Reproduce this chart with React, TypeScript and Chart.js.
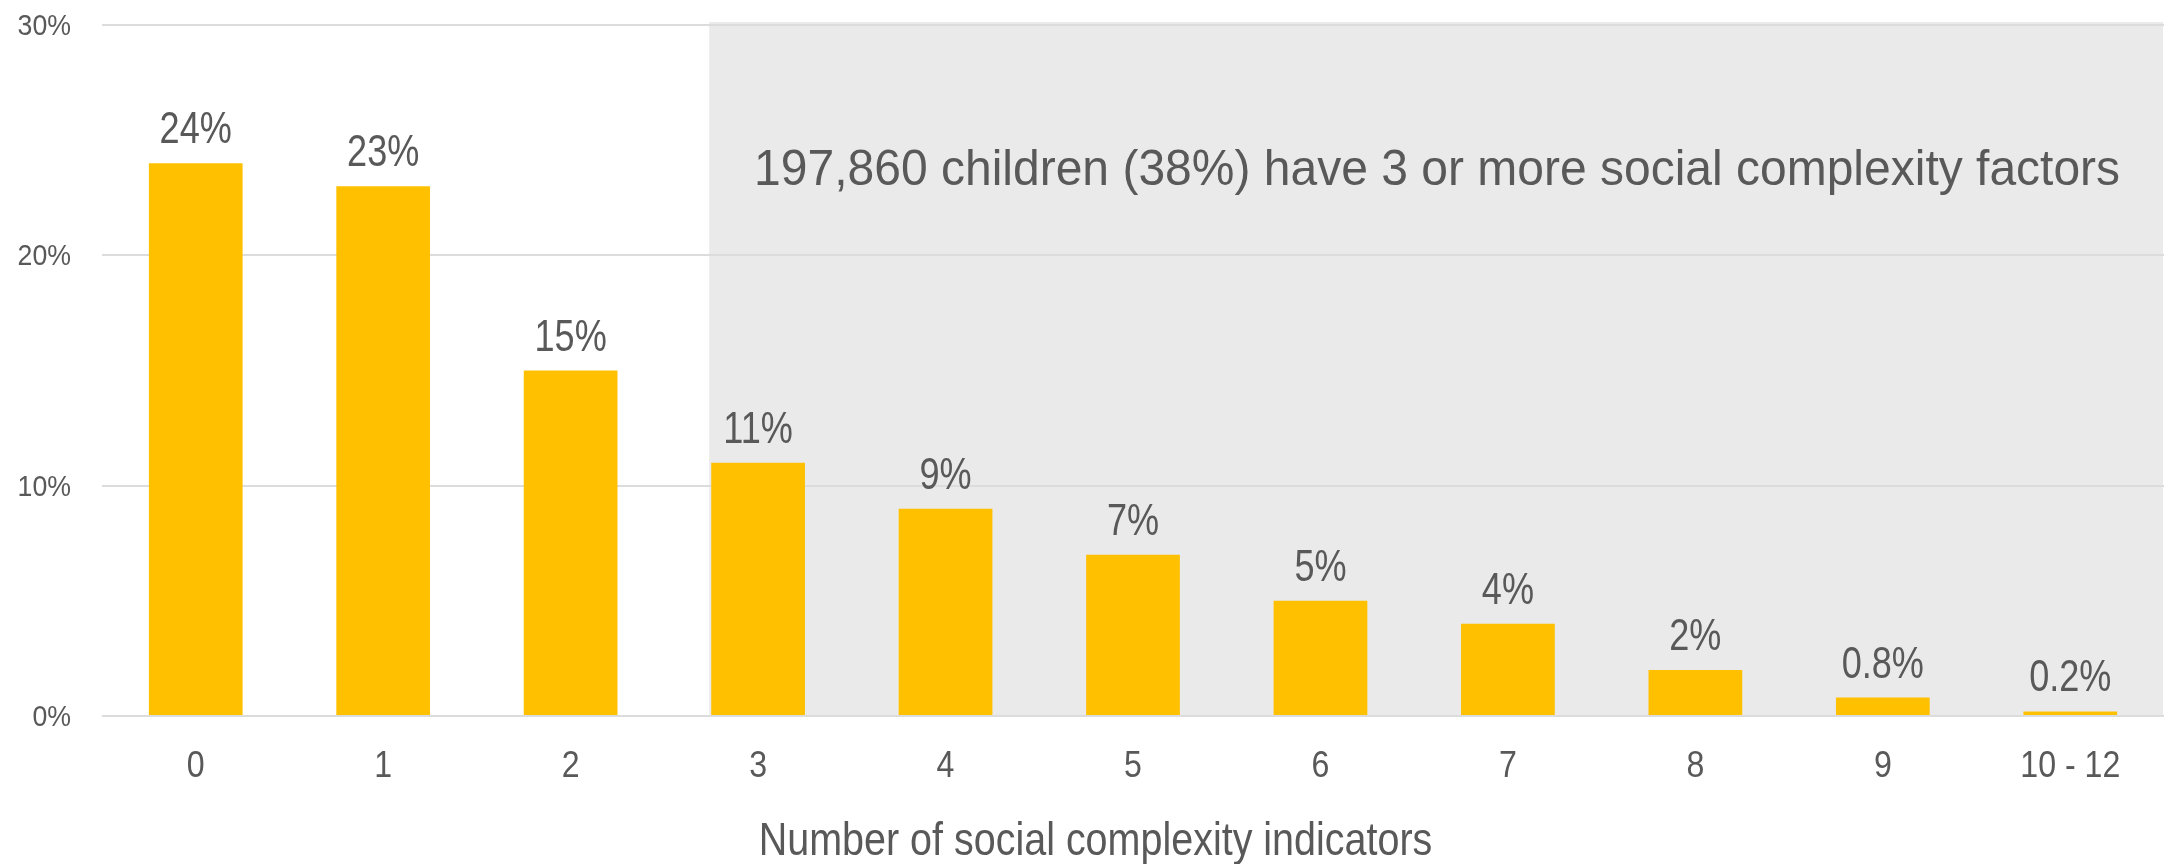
import React, { useEffect, useRef } from "react";
import { Chart, registerables } from "chart.js";

Chart.register(...registerables);

const categories = ["0", "1", "2", "3", "4", "5", "6", "7", "8", "9", "10 - 12"];
const shares = [24, 23, 15, 11, 9, 7, 5, 4, 2, 0.8, 0.2];
const yTickValues = [0, 10, 20, 30];
const annotationText = "197,860 children (38%) have 3 or more social complexity factors";
const xAxisTitle = "Number of social complexity indicators";
const highlightFromIndex = 3;

const FONT = "'Liberation Sans', Arial, sans-serif";
const TEXT = "#595959";
const BAR = "#FFC000";
const SHADE = "#EAEAEA";
const GRID = "#DCDCDC";

function drawText(
  ctx: CanvasRenderingContext2D,
  text: string,
  x: number,
  y: number,
  size: number,
  sx: number,
  align: CanvasTextAlign
) {
  ctx.save();
  ctx.translate(x, y);
  ctx.scale(sx, 1);
  ctx.font = `${size}px ${FONT}`;
  ctx.fillStyle = TEXT;
  ctx.textAlign = align;
  ctx.textBaseline = "alphabetic";
  ctx.fillText(text, 0, 0);
  ctx.restore();
}

const overlayPlugin = {
  id: "overlay",
  beforeDraw(chart: any) {
    const meta = chart.getDatasetMeta(0);
    const bar = meta.data[highlightFromIndex];
    if (!bar) return;
    const { ctx, chartArea, scales } = chart;
    const left = bar.x - bar.width / 2 - 2;
    const top = scales.y.getPixelForValue(yTickValues[yTickValues.length - 1]) - 3;
    const bottom = scales.y.getPixelForValue(0);
    ctx.save();
    ctx.fillStyle = SHADE;
    ctx.fillRect(left, top, chartArea.right - 1 - left, bottom - top);
    ctx.restore();
  },
  afterDatasetsDraw(chart: any) {
    const meta = chart.getDatasetMeta(0);
    const { ctx, chartArea, scales } = chart;
    // data labels
    meta.data.forEach((b: any, i: number) => {
      drawText(ctx, `${shares[i]}%`, b.x, b.y - 20, 44, 0.82, "center");
    });
    // y tick labels
    yTickValues.forEach((v) => {
      drawText(ctx, `${v}%`, chartArea.left - 31, scales.y.getPixelForValue(v) + 10, 30, 0.89, "right");
    });
    // x tick labels
    categories.forEach((c, i) => {
      drawText(ctx, c, scales.x.getPixelForValue(i), chartArea.bottom + 61, 36.5, 0.88, "center");
    });
    // annotation
    const bar = meta.data[highlightFromIndex];
    const left = bar.x - bar.width / 2 - 2;
    const right = chartArea.right - 1;
    const top = scales.y.getPixelForValue(yTickValues[yTickValues.length - 1]);
    drawText(ctx, annotationText, (left + right) / 2 + 1, top + 160, 50, 0.96, "center");
    // axis title
    drawText(ctx, xAxisTitle, chart.width / 2 + 13, chart.height - 9, 47, 0.84, "center");
  },
};

export default function App() {
  const ref = useRef<HTMLCanvasElement | null>(null);
  useEffect(() => {
    if (!ref.current) return;
    const chart = new Chart(ref.current, {
      type: "bar",
      data: {
        labels: categories,
        datasets: [
          {
            data: shares,
            backgroundColor: BAR,
            borderWidth: 0,
            categoryPercentage: 1,
            barPercentage: 0.5,
          },
        ],
      },
      plugins: [overlayPlugin],
      options: {
        animation: false,
        responsive: false,
        devicePixelRatio: 1,
        layout: { padding: { top: 25, right: 1, left: 0, bottom: 0 } },
        plugins: {
          legend: { display: false },
          tooltip: { enabled: false },
        },
        scales: {
          x: {
            grid: { display: false },
            border: { display: false },
            ticks: { display: false, autoSkip: false, maxRotation: 0 },
            afterFit: (s: any) => {
              s.height = 148;
            },
          },
          y: {
            min: 0,
            max: 30,
            border: { display: false },
            grid: { color: GRID, lineWidth: 2, drawTicks: false },
            ticks: { display: false, stepSize: 10 },
            afterFit: (s: any) => {
              s.width = 102;
            },
          },
        },
      },
    });
    return () => chart.destroy();
  }, []);
  return (
    <div style={{ position: "fixed", left: 0, top: 0, width: 2165, height: 864, background: "#fff" }}>
      <canvas ref={ref} width={2165} height={864} style={{ width: 2165, height: 864 }} />
    </div>
  );
}
